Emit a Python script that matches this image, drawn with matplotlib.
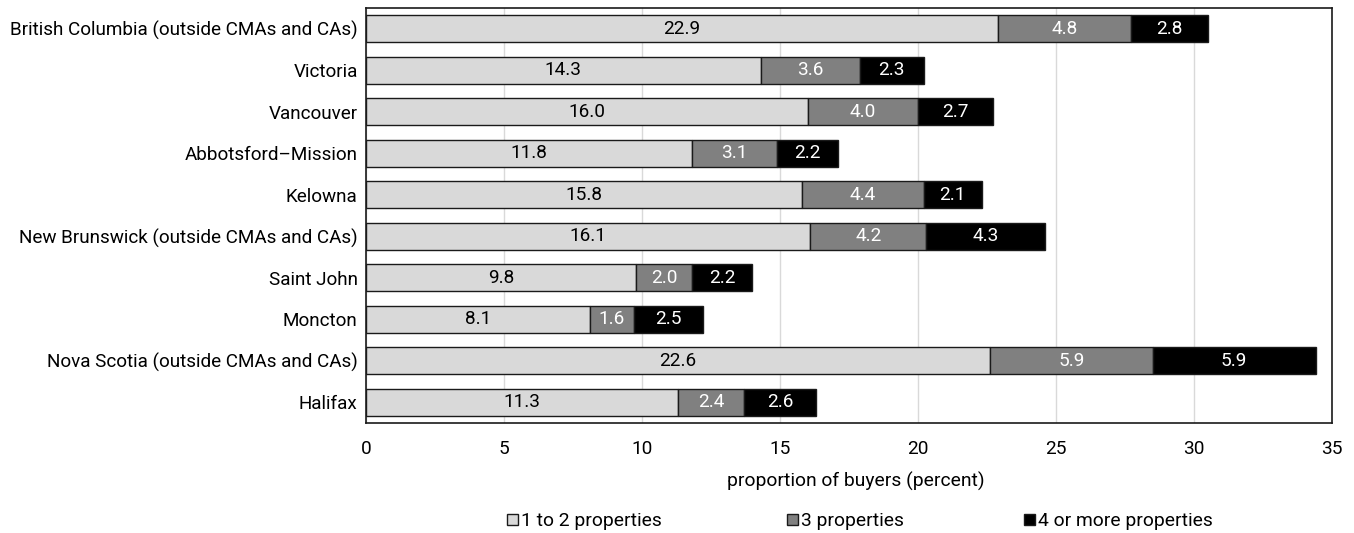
import matplotlib.pyplot as plt
from matplotlib.patches import Patch

plt.rcParams['font.family'] = ['Roboto', 'DejaVu Sans']

regions = ['British Columbia (outside CMAs and CAs)', 'Victoria', 'Vancouver',
           'Abbotsford\u2013Mission', 'Kelowna', 'New Brunswick (outside CMAs and CAs)',
           'Saint John', 'Moncton', 'Nova Scotia (outside CMAs and CAs)', 'Halifax']
one_two = [22.9, 14.3, 16.0, 11.8, 15.8, 16.1, 9.8, 8.1, 22.6, 11.3]
three = [4.8, 3.6, 4.0, 3.1, 4.4, 4.2, 2.0, 1.6, 5.9, 2.4]
four_plus = [2.8, 2.3, 2.7, 2.2, 2.1, 4.3, 2.2, 2.5, 5.9, 2.6]

series = [
    ('1 to 2 properties', one_two, '#d9d9d9', 'black'),
    ('3 properties', three, '#808080', 'white'),
    ('4 or more properties', four_plus, '#000000', 'white'),
]
fs = 13.7

fig = plt.figure(figsize=(13.54, 5.33), dpi=100)
ax = fig.add_axes([0.2703, 0.2064, 0.7135, 0.7786])

ypos = list(range(len(regions)))
left = [0.0] * len(regions)
for name, vals, col, tcol in series:
    bars = ax.barh(ypos, vals, left=left, height=0.66, color=col,
                   edgecolor='#1a1a1a', linewidth=1, label=name, zorder=3)
    for b, v in zip(bars, vals):
        ax.text(b.get_x() + b.get_width() / 2, b.get_y() + b.get_height() / 2,
                f'{v:.1f}', ha='center', va='center', color=tcol,
                fontsize=fs, zorder=4)
    left = [l + v for l, v in zip(left, vals)]

ax.set_xlim(0, 35)
ax.set_ylim(len(regions) - 0.5, -0.5)
ax.set_yticks(ypos)
ax.set_yticklabels(regions, fontsize=fs - 0.1)
ax.set_xticks(range(0, 36, 5))
ax.tick_params(axis='x', labelsize=fs, length=0, pad=12)
ax.tick_params(axis='y', length=0, pad=6)
ax.grid(axis='x', color='#d9d9d9', linewidth=1, zorder=0)
for s in ax.spines.values():
    s.set_color('#1a1a1a')
    s.set_linewidth(1.2)
ax.set_xlabel('proportion of buyers (percent)', fontsize=fs + 0.2)
ax.xaxis.set_label_coords(0.507, -0.118)

# legend entries placed at fixed column positions
leg_x = [507 / 1354, 787 / 1354, 1024 / 1354]
for (name, vals, col, tcol), x in zip(series, leg_x):
    h = Patch(facecolor=col, edgecolor='#1a1a1a', linewidth=1)
    fig.legend([h], [name], loc='center left', bbox_to_anchor=(x, 0.022),
               frameon=False, fontsize=fs + 0.2, handlelength=0.55, handleheight=0.55,
               handletextpad=0.15, borderpad=0, borderaxespad=0)

fig.savefig('out.png', dpi=100)
